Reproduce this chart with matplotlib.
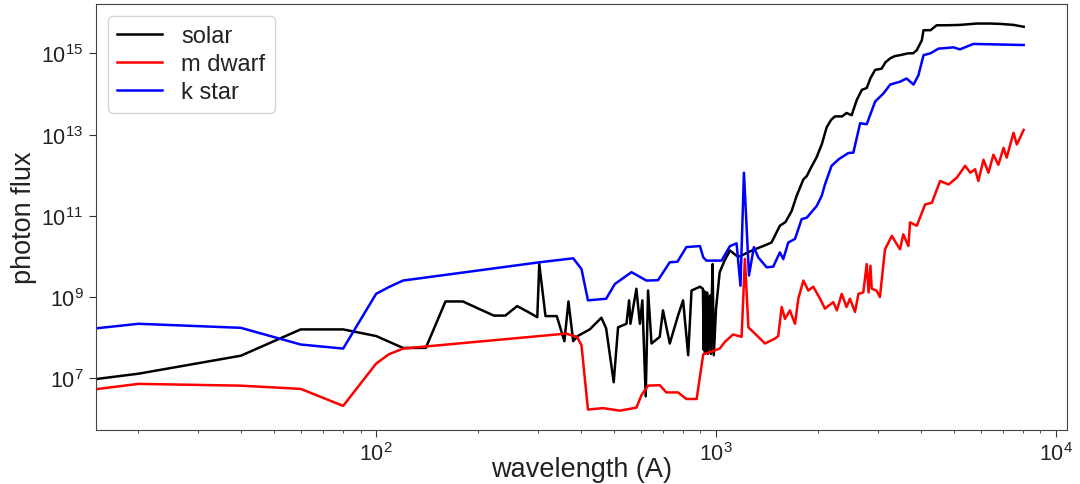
import numpy as np
import matplotlib
matplotlib.use("Agg")
import matplotlib.pyplot as plt
from matplotlib.ticker import NullLocator

plt.rcParams['font.family'] = ['Liberation Sans', 'DejaVu Sans']

# wavelength (A) and photon flux
solar_wl = [15, 20, 40, 60, 80, 100, 120, 140, 160, 180, 200, 222, 240, 260, 280,
            298, 302, 315, 340, 358, 368, 380, 392, 425, 460, 475, 500, 515, 545,
            555, 560, 583, 597, 607, 621, 631, 646, 683, 698, 731, 773, 800, 828,
            847, 897, 915, 920, 924, 928, 932, 936, 941, 946, 951, 956, 961, 966,
            971, 977, 985, 1000, 1025, 1060, 1099, 1149, 1175, 1250, 1300, 1376,
            1456, 1541, 1600, 1668, 1726, 1807, 1849, 1900, 1978, 2050, 2115, 2180,
            2238, 2350, 2420, 2506, 2594, 2685, 2775, 2850, 2938, 3070, 3150, 3252,
            3350, 3477, 3680, 3800, 3896, 4031, 4077, 4275, 4457, 4800, 5217, 5848,
            6400, 6836, 7500, 8035]
solar_flux = [9.6e6, 1.3e7, 3.6e7, 1.6e8, 1.6e8, 1.1e8, 5.6e7, 5.6e7, 7.8e8, 7.8e8,
              5.2e8, 3.5e8, 3.5e8, 6.0e8, 4.3e8, 3.2e8, 6.5e9, 3.4e8, 3.4e8, 8.2e7,
              7.8e8, 8.2e7, 1.1e8, 1.6e8, 3.1e8, 1.7e8, 8e6, 1.8e8, 2.2e8, 8.3e8,
              2.2e8, 1.6e9, 2.2e8, 8.3e8, 3.6e6, 1.45e9, 7.2e7, 1.05e8, 4.7e8, 7.2e7,
              3.5e8, 8.3e8, 3.7e7, 1.45e9, 1.8e9, 1.6e9, 5e7, 1.4e9, 4e7, 1.2e9,
              5e7, 1.3e9, 4e7, 1.0e9, 6e7, 1.1e9, 4e7, 8e8, 6.5e9, 3.7e7, 5.2e8,
              4.1e9, 8e9, 1.4e10, 1.04e10, 1.0e10, 1.3e10, 1.5e10, 1.8e10, 2.2e10,
              5.7e10, 7e10, 1.3e11, 3.1e11, 7.9e11, 9.5e11, 1.5e12, 2.8e12, 6e12,
              1.5e13, 2.3e13, 2.8e13, 2.8e13, 3.4e13, 3.0e13, 7.1e13, 1.26e14,
              1.4e14, 2.5e14, 3.9e14, 4.2e14, 6e14, 7.5e14, 8.5e14, 9.0e14, 1.0e15,
              1.0e15, 1.2e15, 2.1e15, 3.7e15, 3.7e15, 4.9e15, 4.9e15, 5.0e15,
              5.4e15, 5.4e15, 5.3e15, 5.0e15, 4.5e15]

mdwarf_wl = [15, 20, 40, 60, 80, 100, 109, 120, 303, 362, 390, 402, 420, 465, 521,
             583, 604, 631, 683, 714, 773, 818, 877, 917, 980, 1025, 1062, 1122,
             1189, 1216, 1245, 1316, 1393, 1490, 1524, 1560, 1595, 1649, 1707, 1746,
             1807, 1868, 1932, 2023, 2091, 2212, 2267, 2343, 2420, 2477, 2563, 2624,
             2711, 2775, 2810, 2846, 2871, 2966, 3034, 3141, 3290, 3477, 3555, 3680,
             3722, 3896, 4121, 4315, 4562, 4830, 5109, 5404, 5596, 5781, 5911, 6120,
             6329, 6547, 6771, 7010, 7161, 7499, 7672, 8035]
mdwarf_flux = [5.4e6, 7.3e6, 6.6e6, 5.5e6, 2.1e6, 2.3e7, 3.9e7, 5.4e7, 1.1e8, 1.26e8,
               1.05e8, 6.5e7, 1.7e6, 1.85e6, 1.6e6, 1.9e6, 3.9e6, 6.6e6, 6.8e6,
               4.5e6, 4.5e6, 3.1e6, 3.1e6, 3.9e7, 4.7e7, 5.4e7, 7.9e7, 1.2e8,
               1.05e8, 8.7e9, 1.8e8, 1.15e8, 7.2e7, 9.5e7, 1.1e8, 5.7e8, 2.9e8,
               4.7e8, 2.2e8, 9.1e8, 2.55e9, 1.45e9, 1.8e9, 9.1e8, 5.2e8, 7.5e8,
               4.7e8, 1.2e9, 5.7e8, 9.1e8, 4.3e8, 1.2e9, 1.3e9, 6.5e9, 1.3e9, 5.9e9,
               1.6e9, 1.45e9, 1.0e9, 1.5e10, 3.2e10, 1.5e10, 3.5e10, 1.8e10, 6.9e10,
               5.7e10, 1.9e11, 2.1e11, 7.2e11, 5.9e11, 8.7e11, 1.7e12, 1.15e12,
               1.4e12, 7.2e11, 2.4e12, 1.15e12, 3.2e12, 1.8e12, 4.7e12, 2.7e12,
               1.1e13, 5.7e12, 1.3e13]

kstar_wl = [15, 20, 40, 60, 80, 100, 109, 120, 303, 380, 402, 420, 475, 504, 564,
            624, 675, 731, 770, 818, 897, 917, 937, 1038, 1099, 1149, 1180, 1208,
            1250, 1292, 1331, 1409, 1473, 1541, 1577, 1631, 1707, 1786, 1849, 1978,
            2046, 2091, 2187, 2300, 2449, 2535, 2654, 2775, 2938, 3112, 3252, 3477,
            3636, 3810, 3940, 4077, 4275, 4508, 4994, 5217, 5714, 8035]
kstar_flux = [1.7e8, 2.2e8, 1.75e8, 6.8e7, 5.4e7, 1.2e9, 1.76e9, 2.55e9, 7.2e9, 9.0e9,
              4.9e9, 8.3e8, 9.1e8, 2.1e9, 4.1e9, 2.55e9, 2.6e9, 7.2e9, 7.4e9,
              1.7e10, 1.8e10, 9.5e9, 7.9e9, 7.9e9, 1.8e10, 2.1e10, 1.9e9, 1.15e12,
              3.4e9, 1.7e10, 9.5e9, 5.4e9, 5.6e9, 1.26e10, 8.6e9, 2.2e10, 2.7e10,
              8.3e10, 9e10, 1.75e11, 3.1e11, 5.9e11, 1.7e12, 2.5e12, 3.5e12, 3.6e12,
              1.9e13, 1.8e13, 6.5e13, 1.04e14, 1.7e14, 2.0e14, 2.4e14, 1.7e14,
              2.9e14, 9.0e14, 1.0e15, 1.3e15, 1.4e15, 1.25e15, 1.7e15, 1.6e15]

fig = plt.figure(figsize=(10.8, 4.85), dpi=100)
ax = fig.add_axes([0.0889, 0.1113, 0.899, 0.878])

ax.plot(solar_wl, solar_flux, color='k', lw=1.8, label='solar')
ax.plot(mdwarf_wl, mdwarf_flux, color='r', lw=1.8, label='m dwarf')
ax.plot(kstar_wl, kstar_flux, color='b', lw=1.8, label='k star')

ax.set_xscale('log')
ax.set_yscale('log')
ax.set_xlim(15, 10770)
ax.set_yticks([1e7, 1e9, 1e11, 1e13, 1e15])
ax.yaxis.set_minor_locator(NullLocator())

ax.tick_params(axis='both', which='major', labelsize=15.5, colors='#333333',
               labelcolor='#222222', length=5, pad=4)
ax.tick_params(axis='both', which='minor', colors='#333333')
for s in ax.spines.values():
    s.set_color('#444444')

ax.set_xlabel('wavelength (A)', fontsize=19.5, color='#222222', labelpad=-7)
ax.set_ylabel('photon flux', fontsize=19.5, color='#222222', labelpad=3)

leg = ax.legend(loc='upper left', fontsize=17, labelspacing=0.25, handlelength=1.9)
for t in leg.get_texts():
    t.set_color('#222222')

plt.savefig("out.png", dpi=100)
